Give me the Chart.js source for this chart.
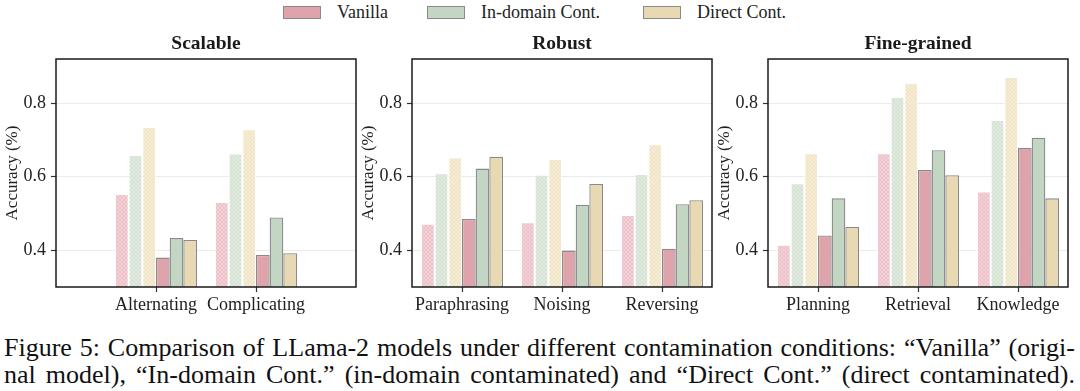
<!DOCTYPE html>
<html>
<head>
<meta charset="utf-8">
<script src="https://cdn.jsdelivr.net/npm/chart.js@4"></script>
<style>
  body { margin: 0; background: #fff; width: 1080px; height: 391px; position: relative; overflow: hidden; font-family: 'Liberation Serif', 'Times New Roman', serif; }
  canvas { position: absolute; top: 0; }
  #legend .box { position: absolute; width: 36px; height: 11px; border: 1.5px solid #8a8a8a; top: 6px; }
  #legend .txt { position: absolute; top: 1px; font-size: 18px; color: #222; line-height: 22px; }
  .cap { position: absolute; left: 4px; width: 1071px; font-size: 26px; line-height: 27px; color: #111;
         text-align: justify; text-align-last: justify; white-space: nowrap; }
</style>
</head>
<body>
<div id="legend"></div>
<canvas id="c1" width="360" height="320" style="left:0px"></canvas>
<canvas id="c2" width="360" height="320" style="left:356px"></canvas>
<canvas id="c3" width="360" height="320" style="left:712px"></canvas>
<div class="cap" style="top:334px">Figure 5: Comparison of LLama-2 models under different contamination conditions: “Vanilla” (origi-</div>
<div class="cap" style="top:361px">nal model), “In-domain Cont.” (in-domain contaminated) and “Direct Cont.” (direct contaminated).</div>
<script>
// series shown in the legend
const seriesNames = ['Vanilla', 'In-domain Cont.', 'Direct Cont.'];
const solidColors = ['#dfa3ab', '#c3d6c3', '#e8d9b2'];
const hatchTints = ['#f3d3d8', '#e0eadf', '#f5ecd3'];

// panel titles and categories
const panelTitles = ['Scalable', 'Robust', 'Fine-grained'];
const scalableLabels = ['Alternating', 'Complicating'];
const robustLabels = ['Paraphrasing', 'Noising', 'Reversing'];
const fineLabels = ['Planning', 'Retrieval', 'Knowledge'];

// y axis
const yTicks = [0.4, 0.6, 0.8];
const yMin = 0.3;
const yMax = 0.92;

// values, one row per series (Vanilla, In-domain, Direct)
// hatched = left three bars of each group, solid = right three bars
const scalableHatched = [[0.553, 0.531], [0.659, 0.663], [0.735, 0.729]];
const scalableSolid   = [[0.380, 0.387], [0.433, 0.489], [0.428, 0.392]];
const robustHatched = [[0.472, 0.476, 0.496], [0.609, 0.605, 0.607], [0.652, 0.648, 0.688]];
const robustSolid   = [[0.485, 0.399, 0.404], [0.622, 0.524, 0.525], [0.654, 0.580, 0.536]];
const fineHatched = [[0.415, 0.664, 0.560], [0.582, 0.817, 0.754], [0.664, 0.855, 0.871]];
const fineSolid   = [[0.440, 0.618, 0.679], [0.541, 0.672, 0.706], [0.463, 0.604, 0.541]];

// legend (html, built from the series arrays)
const legendX = [283, 427, 643];
const legendEl = document.getElementById('legend');
seriesNames.forEach((name, i) => {
    legendEl.innerHTML += `<div class="box" style="left:${legendX[i]}px;background:${solidColors[i]}"></div>` +
        `<div class="txt" style="left:${legendX[i] + 54}px">${name}</div>`;
});

function hatch(color, tint) {
    const c = document.createElement('canvas');
    c.width = 4; c.height = 4;
    const g = c.getContext('2d');
    g.fillStyle = tint;
    g.fillRect(0, 0, 4, 4);
    g.strokeStyle = color;
    g.globalAlpha = 0.55;
    g.lineWidth = 0.7;
    g.beginPath();
    g.moveTo(0, 0); g.lineTo(4, 4);
    g.moveTo(0, 4); g.lineTo(4, 0);
    g.stroke();
    return g.createPattern(c, 'repeat');
}
const hatchFills = solidColors.map((c, i) => hatch(c, hatchTints[i]));

// box around the plot area
const framePlugin = {
    id: 'frame',
    afterDraw(chart) {
        const a = chart.chartArea, ctx = chart.ctx;
        ctx.save();
        ctx.strokeStyle = '#1a1a1a';
        ctx.lineWidth = 1.5;
        ctx.strokeRect(a.left, a.top, a.right - a.left, a.bottom - a.top);
        ctx.restore();
    }
};

function makePanel(id, title, labels, hatched, solid, padEnds) {
    // Scalable has only two categories but the same x spacing as the others
    const cats = padEnds ? ['', ...labels, ''] : labels;
    const pad = arr => padEnds ? [null, ...arr, null] : arr;

    const datasets = [];
    hatched.forEach((vals, i) => datasets.push({
        label: seriesNames[i] + ' (hatched)',
        data: pad(vals),
        backgroundColor: hatchFills[i],
        borderColor: 'rgba(255,255,255,0.8)',
        borderWidth: 1
    }));
    solid.forEach((vals, i) => datasets.push({
        label: seriesNames[i],
        data: pad(vals),
        backgroundColor: solidColors[i],
        borderColor: '#8a8a8a',
        borderWidth: 1.3,
        borderSkipped: false
    }));

    new Chart(document.getElementById(id), {
        type: 'bar',
        data: { labels: cats, datasets },
        options: {
            responsive: false,
            animation: false,
            datasets: { bar: { categoryPercentage: 0.82, barPercentage: 1 } },
            layout: { padding: { left: 0, right: 4, top: 0, bottom: 0 } },
            plugins: {
                legend: { display: false },
                tooltip: { enabled: false },
                title: {
                    display: true,
                    text: title,
                    fullSize: false,
                    color: '#1a1a1a',
                    font: { family: 'Liberation Serif', size: 19.5, weight: 'bold' },
                    padding: { top: 32, bottom: 3.6 }
                }
            },
            scales: {
                x: {
                    offset: !padEnds,
                    border: { display: false },
                    grid: {
                        offset: false,
                        drawOnChartArea: false,
                        tickLength: 5,
                        tickWidth: 1.2,
                        tickColor: ctx => cats[ctx.index] ? '#333' : 'transparent'
                    },
                    ticks: {
                        autoSkip: false,
                        maxRotation: 0,
                        padding: 2,
                        color: '#222',
                        font: { family: 'Liberation Serif', size: 18 }
                    },
                    afterFit: s => { s.height = 33; }
                },
                y: {
                    min: yMin,
                    max: yMax,
                    border: { display: false },
                    grid: { color: '#ebebeb', lineWidth: 1, tickColor: '#333', tickLength: 5, tickWidth: 1.2 },
                    afterBuildTicks: s => { s.ticks = yTicks.map(v => ({ value: v })); },
                    ticks: {
                        padding: 5,
                        color: '#222',
                        font: { family: 'Liberation Serif', size: 18 },
                        callback: v => v.toFixed(1)
                    },
                    title: {
                        display: true,
                        text: 'Accuracy (%)',
                        color: '#222',
                        font: { family: 'Liberation Serif', size: 17 },
                        padding: { top: 2, bottom: 0 }
                    },
                    afterFit: s => { s.width = 56; }
                }
            }
        },
        plugins: [framePlugin]
    });
}

makePanel('c1', panelTitles[0], scalableLabels, scalableHatched, scalableSolid, true);
makePanel('c2', panelTitles[1], robustLabels, robustHatched, robustSolid, false);
makePanel('c3', panelTitles[2], fineLabels, fineHatched, fineSolid, false);
</script>
</body>
</html>
